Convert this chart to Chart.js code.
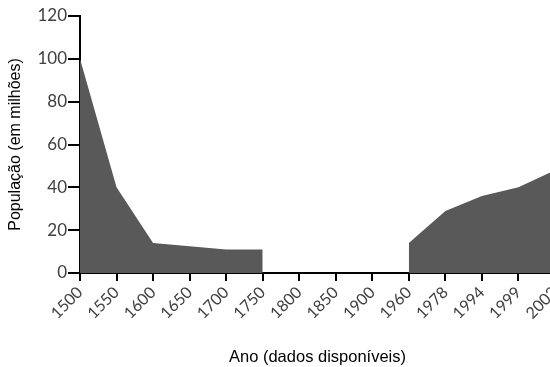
<!DOCTYPE html>
<html>
<head>
<meta charset="utf-8">
<script src="https://cdn.jsdelivr.net/npm/chart.js@4"></script>
<style>
  html, body { margin: 0; padding: 0; overflow: hidden; background: #fff; }
  #wrap { width: 580px; height: 367px; }
</style>
</head>
<body>
<div id="wrap"><canvas id="myChart" width="580" height="367"></canvas></div>
<script>
// anos com dados (1800-1900 sem dados)
const anos = ['1500', '1550', '1600', '1650', '1700', '1750', '1800', '1850', '1900', '1960', '1978', '1994', '1999', '2003'];
const populacao = [100, 40, 14, 12.5, 11, 11, null, null, null, 14, 29, 36, 40, 48];
const yTicks = [0, 20, 40, 60, 80, 100, 120];

const ctx = document.getElementById('myChart');

new Chart(ctx, {
  type: 'line',
  data: {
    labels: anos,
    datasets: [{
      label: 'População',
      data: populacao,
      fill: 'origin',
      backgroundColor: '#595959',
      borderWidth: 0,
      pointRadius: 0,
      tension: 0,
      spanGaps: false
    }]
  },
  options: {
    responsive: false,
    animation: false,
    layout: { padding: { top: 16, right: 25, left: 6, bottom: 0 } },
    plugins: { legend: { display: false }, tooltip: { enabled: false } },
    scales: {
      x: {
        offset: false,
        grid: { drawOnChartArea: false, drawTicks: true, tickLength: 8, color: '#000', lineWidth: 2 },
        border: { display: true, color: '#000', width: 2 },
        ticks: {
          autoSkip: false,
          maxRotation: 45,
          minRotation: 45,
          color: '#404040',
          padding: 2,
          font: { family: 'Lato', size: 16 }
        },
        title: {
          display: true,
          text: 'Ano (dados disponíveis)',
          color: '#000',
          padding: { top: 14, bottom: 0 },
          font: { family: 'Liberation Sans', size: 16.5 }
        },
        afterFit: (scale) => { scale.height = 94; }
      },
      y: {
        min: 0,
        max: 120,
        afterBuildTicks: (scale) => { scale.ticks = yTicks.map(v => ({ value: v })); },
        grid: { drawOnChartArea: false, drawTicks: true, tickLength: 12, color: '#000', lineWidth: 2 },
        border: { display: true, color: '#000', width: 2 },
        ticks: {
          color: '#404040',
          padding: 1,
          font: { family: 'Lato', size: 17 }
        },
        title: {
          display: true,
          text: 'População (em milhões)',
          color: '#000',
          padding: { top: 0, bottom: 4 },
          font: { family: 'Liberation Sans', size: 16 }
        },
        afterFit: (scale) => { scale.width = 74; }
      }
    }
  }
});
</script>
</body>
</html>
